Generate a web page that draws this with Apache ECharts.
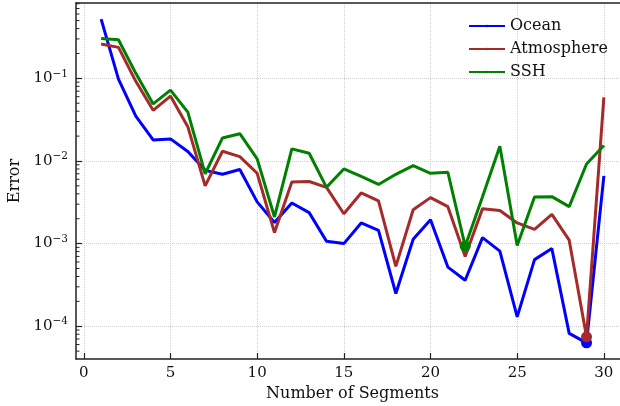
<!DOCTYPE html>
<html>
<head>
<meta charset="utf-8">
<script src="https://cdn.jsdelivr.net/npm/echarts@6/dist/echarts.min.js"></script>
<style>
  html, body { margin: 0; padding: 0; background: #fff; overflow: hidden; }
  #chart { width: 640px; height: 406px; }
</style>
</head>
<body>
<div id="chart"></div>
<script>
var segments = [1, 2, 3, 4, 5, 6, 7, 8, 9, 10, 11, 12, 13, 14, 15,
  16, 17, 18, 19, 20, 21, 22, 23, 24, 25, 26, 27, 28, 29, 30];
var ocean = [0.52, 0.098, 0.035, 0.018, 0.0185, 0.013, 0.0077, 0.0069, 0.0079, 0.0032,
  0.0018, 0.0031, 0.00237, 0.00107, 0.001, 0.00178, 0.00145, 0.000249, 0.00113, 0.00195,
  0.00052, 0.00036, 0.00118, 0.00081, 0.00013, 0.00064, 0.00087, 0.000082, 0.000063, 0.0066];
var atmosphere = [0.26, 0.237, 0.092, 0.041, 0.061, 0.026, 0.005, 0.0131, 0.0113, 0.0071,
  0.00136, 0.00555, 0.00565, 0.0048, 0.0023, 0.0041, 0.0033, 0.00053, 0.00257, 0.0036,
  0.0028, 0.0007, 0.00265, 0.00252, 0.00178, 0.00149, 0.00226, 0.0011, 0.0000745, 0.059];
var ssh = [0.304, 0.293, 0.115, 0.049, 0.072, 0.039, 0.007, 0.019, 0.0214, 0.0106,
  0.0021, 0.014, 0.0124, 0.0048, 0.008, 0.0065, 0.0052, 0.0069, 0.0088, 0.0071,
  0.0073, 0.00093, 0.0037, 0.0151, 0.00095, 0.00366, 0.0037, 0.0028, 0.0092, 0.0154];
var seriesNames = ['Ocean', 'Atmosphere', 'SSH'];
var seriesColors = ['#0000ff', '#a52a2a', '#008000'];

var allValues = [ocean, atmosphere, ssh];
var FONT = '"DejaVu Serif", serif';

// matplotlib-like 5% margins (x linear, y in log space)
var xMin = 1 - 0.05 * 29, xMax = 30 + 0.05 * 29;
var flat = [].concat(ocean, atmosphere, ssh);
var lo = Math.log10(Math.min.apply(null, flat)), hi = Math.log10(Math.max.apply(null, flat));
var yMin = Math.pow(10, lo - 0.05 * (hi - lo));
var yMax = Math.pow(10, hi + 0.05 * (hi - lo));

// minor log ticks 2..9 x 10^k
var minorTicks = [];
for (var e = -6; e <= 1; e++) {
  for (var k = 2; k <= 9; k++) {
    var v = k * Math.pow(10, e);
    if (v > yMin && v < yMax) minorTicks.push([xMin, v]);
  }
}

var chart = echarts.init(document.getElementById('chart'));

var series = [];
allValues.forEach(function (vals, i) {
  series.push({
    name: seriesNames[i],
    type: 'line',
    data: segments.map(function (s, j) { return [s, vals[j]]; }),
    symbol: 'none',
    lineStyle: { color: seriesColors[i], width: 3 },
    itemStyle: { color: seriesColors[i] },
    z: 3
  });
});
// filled dot on each series' minimum
allValues.forEach(function (vals, i) {
  var m = vals.indexOf(Math.min.apply(null, vals));
  series.push({
    name: seriesNames[i] + ' min',
    type: 'scatter',
    data: [[segments[m], vals[m]]],
    symbol: 'circle',
    symbolSize: 11,
    itemStyle: { color: seriesColors[i], opacity: 1 },
    z: 4
  });
});
series.push({
  type: 'custom',
  data: minorTicks,
  silent: true,
  z: 5,
  renderItem: function (params, api) {
    var p = api.coord([api.value(0), api.value(1)]);
    return {
      type: 'line',
      shape: { x1: p[0], y1: p[1], x2: p[0] + 3.5, y2: p[1] },
      style: { stroke: '#222', lineWidth: 1 }
    };
  }
});

var gridLine = {
  show: true, showMinLine: false, showMaxLine: false,
  lineStyle: { color: '#cfcfcf', type: 'dotted', width: 1 }
};

var option = {
  backgroundColor: '#fff',
  animation: false,
  grid: {
    left: 76, right: 11, top: 3, bottom: 47,
    containLabel: false,
    outerBoundsMode: 'none'
  },
  legend: {
    data: seriesNames,
    orient: 'vertical',
    left: 463,
    top: 13,
    itemWidth: 36,
    itemHeight: 3,
    itemGap: 7,
    textStyle: { fontFamily: FONT, fontSize: 16, color: '#111' }
  },
  xAxis: [{
    type: 'value',
    min: xMin,
    max: xMax,
    splitNumber: 6,
    name: 'Number of Segments',
    nameLocation: 'middle',
    nameGap: 27,
    nameTextStyle: { fontFamily: FONT, fontSize: 16, color: '#111' },
    axisLine: { onZero: false, lineStyle: { color: '#222', width: 1.5 } },
    axisTick: { inside: true, length: 6, lineStyle: { color: '#222', width: 1.2 } },
    axisLabel: {
      fontFamily: FONT, fontSize: 15, color: '#111', margin: 7,
      showMinLabel: false, showMaxLabel: false,
      formatter: function (v) { return v % 5 === 0 ? String(v) : ''; }
    },
    splitLine: gridLine
  }, {
    // top spine only
    type: 'value',
    position: 'top',
    min: xMin,
    max: xMax,
    axisLine: { onZero: false, lineStyle: { color: '#222', width: 1.5 } },
    axisTick: { show: false },
    axisLabel: { show: false },
    splitLine: { show: false }
  }],
  yAxis: {
    type: 'log',
    logBase: 10,
    min: yMin,
    max: yMax,
    name: 'Error',
    nameLocation: 'middle',
    nameGap: 50,
    nameTextStyle: { fontFamily: FONT, fontSize: 16, color: '#111' },
    axisLine: { onZero: false, lineStyle: { color: '#222', width: 1.5 } },
    axisTick: { inside: true, length: 6, lineStyle: { color: '#222', width: 1.2 } },
    axisLabel: {
      fontFamily: FONT, color: '#111', margin: 8,
      showMinLabel: false, showMaxLabel: false,
      formatter: function (v) {
        var ex = Math.log10(v);
        if (Math.abs(ex - Math.round(ex)) > 1e-6) return '';
        return '{b|10}{s|\u2212' + Math.abs(Math.round(ex)) + '}';
      },
      rich: {
        b: { fontFamily: FONT, fontSize: 15, color: '#111' },
        s: { fontFamily: FONT, fontSize: 10.5, color: '#111', padding: [0, 0, 9, 0] }
      }
    },
    splitLine: gridLine
  },
  series: series
};

chart.setOption(option);
</script>
</body>
</html>
